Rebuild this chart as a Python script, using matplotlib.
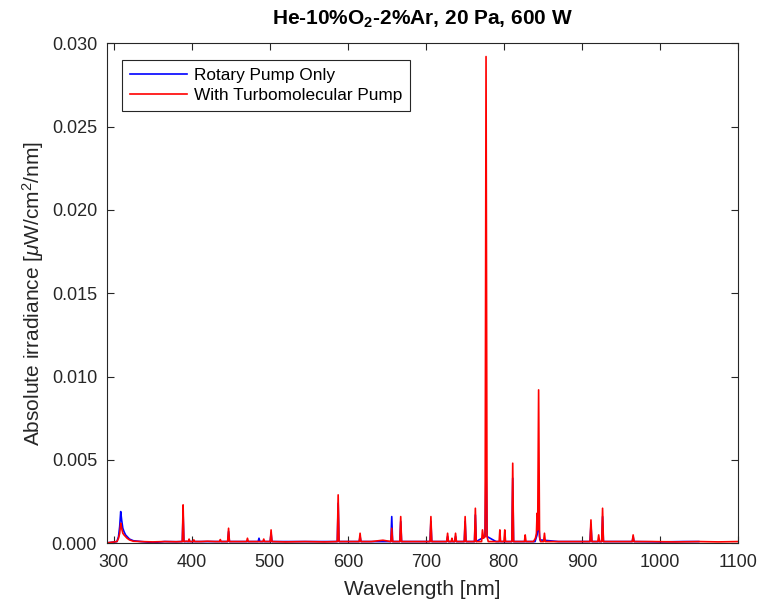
import matplotlib
matplotlib.use('Agg')
import matplotlib.pyplot as plt
from matplotlib.ticker import FormatStrFormatter

# ---------------------------------------------------------------------------
# Espectros (nm, uW/cm^2/nm)

rot_nm = [291, 298, 304, 306, 307.5, 308.8, 310, 311.5, 313, 315, 317, 320, 325,
          335, 350, 365, 380, 387.8, 388.8, 389.8, 400, 420, 446.0, 447.1, 448.2,
          470, 485.0, 486.1, 487.2, 500.5, 501.6, 502.7, 540, 586.5, 587.6, 588.7,
          614.6, 615.7, 616.8, 655.2, 656.3, 657.4, 666.7, 667.8, 668.9, 705.4,
          706.5, 707.6, 726.8, 727.9, 729, 737, 738.1, 739.2, 749.3, 750.4, 751.5,
          762.4, 763.5, 764.6, 775.8, 777.2, 778.6, 790, 810.3, 811.4, 812.5, 840,
          842.6, 844.6, 846.2, 870, 910.5, 911.7, 912.9, 925.5, 926.6, 927.7, 964.7,
          965.8, 966.9, 1000, 1030, 1050]
rot_val = [0.00002, 0.00006, 0.0001, 0.0004, 0.0010, 0.0019, 0.0014, 0.0009, 0.0007,
           0.0005, 0.0004, 0.00025, 0.00015, 0.0001, 0.00004, 0.0001, 0.00009, 0.0001,
           0.0018, 0.0001, 0.0001, 0.0001, 0.0001, 0.0007, 0.0001, 0.0001, 0.0001,
           0.0003, 0.0001, 0.0001, 0.0006, 0.0001, 0.0001, 0.0001, 0.0024, 0.0001,
           0.0001, 0.0004, 0.0001, 0.0001, 0.0016, 0.0001, 0.0001, 0.0013, 0.0001,
           0.0001, 0.0013, 0.0001, 0.0001, 0.0004, 0.0001, 0.0001, 0.0004, 0.0001,
           0.0001, 0.0013, 0.0001, 0.0001, 0.0017, 0.0001, 0.0004, 0.0045, 0.0004,
           0.0001, 0.0001, 0.0039, 0.0001, 0.0001, 0.0005, 0.0012, 0.0002, 0.0001,
           0.0001, 0.0011, 0.0001, 0.0001, 0.0016, 0.0001, 0.0001, 0.0004, 0.0001,
           0.00008, 0.0001, 0.0001]

turbo_nm = [291, 298, 304, 306, 307.5, 308.8, 310, 311.5, 313, 315, 317, 320, 325,
            335, 350, 365, 380, 387.8, 388.8, 389.8, 393, 395.5, 396.5, 397.5, 401.5,
            402.6, 403.7, 412, 420, 430, 435.5, 436.5, 437.5, 445.9, 447.1, 448.2,
            458, 470.2, 471.3, 472.4, 480, 491.1, 492.2, 493.3, 500.5, 501.6, 502.7,
            520, 545, 570, 586.5, 587.6, 588.7, 600, 614.6, 615.7, 616.8, 630, 645,
            655.2, 656.3, 657.4, 666.7, 667.8, 668.9, 690, 705.4, 706.5, 707.6, 718,
            726.8, 727.9, 729, 732.5, 733.5, 734.5, 737, 738.1, 739.2, 749.3, 750.4,
            751.5, 762.4, 763.5, 764.6, 771.5, 772.6, 774, 776.0, 777.2, 778.5, 780,
            790, 794, 794.9, 795.8, 800.2, 801.2, 802.2, 810.3, 811.4, 812.5, 820,
            826.4, 827.4, 828.4, 838, 840.5, 841.8, 842.6, 843.4, 844.6, 845.8, 847,
            851, 852.1, 853.2, 870, 890, 910.5, 911.7, 912.9, 920.5, 921.6, 922.7,
            925.5, 926.6, 927.7, 940, 964.7, 965.8, 966.9, 990, 1020, 1050, 1075, 1100]
turbo_val = [0.00002, 0.00006, 0.0001, 0.0003, 0.0006, 0.0012, 0.0009, 0.0006, 0.0005,
             0.0004, 0.0003, 0.0002, 0.00012, 0.0001, 0.00008, 0.0001, 0.00009, 0.0001,
             0.0023, 0.0001, 0.00012, 0.0001, 0.00025, 0.0001, 0.0001, 0.0002, 0.0001,
             0.0001, 0.00012, 0.0001, 0.0001, 0.00022, 0.0001, 0.0001, 0.0009, 0.0001,
             0.0001, 0.0001, 0.0003, 0.0001, 0.0001, 0.0001, 0.00025, 0.0001, 0.0001,
             0.0008, 0.0001, 0.00008, 0.0001, 0.00008, 0.0001, 0.0029, 0.0001, 0.0001,
             0.0001, 0.0006, 0.0001, 0.0001, 0.00018, 0.0001, 0.0009, 0.0001, 0.0001,
             0.0016, 0.0001, 0.0001, 0.0001, 0.0016, 0.0001, 0.0001, 0.0001, 0.0006,
             0.0001, 0.0001, 0.0003, 0.0001, 0.0001, 0.0006, 0.0001, 0.0001, 0.0016,
             0.0001, 0.0001, 0.0021, 0.0001, 0.0001, 0.0008, 0.0003, 0.0004, 0.0292,
             0.0004, 0.0001, 0.0001, 0.0001, 0.0008, 0.0001, 0.0001, 0.0008, 0.0001,
             0.0001, 0.0048, 0.0001, 0.0001, 0.0001, 0.0005, 0.0001, 0.0001, 0.0003,
             0.0006, 0.0018, 0.0008, 0.0092, 0.0004, 0.0001, 0.0001, 0.0006, 0.0001,
             0.0001, 0.0001, 0.0001, 0.0014, 0.0001, 0.0001, 0.0005, 0.0001, 0.0001,
             0.0021, 0.0001, 0.0001, 0.0001, 0.0005, 0.0001, 0.0001, 0.00008, 0.0001,
             0.00008, 0.0001]

x_ticks = [300, 400, 500, 600, 700, 800, 900, 1000, 1100]
y_ticks = [0.000, 0.005, 0.010, 0.015, 0.020, 0.025, 0.030]

# ---------------------------------------------------------------------------

plt.rcParams['font.family'] = ['Liberation Sans', 'DejaVu Sans']
plt.rcParams['mathtext.fontset'] = 'custom'
plt.rcParams['mathtext.rm'] = 'Liberation Sans'
plt.rcParams['mathtext.it'] = 'Liberation Sans:italic'
plt.rcParams['mathtext.bf'] = 'Liberation Sans:bold'

cinza = '#262626'

fig = plt.figure(figsize=(7.63, 6.09), dpi=100)
ax = fig.add_axes([0.140, 0.108, 0.827, 0.821])

ax.plot(rot_nm, rot_val, '-', color='#0000ff', lw=1.2, label='Rotary Pump Only')
ax.plot(turbo_nm, turbo_val, '-', color='#ff0000', lw=1.2, label='With Turbomolecular Pump')

ax.set_xlim(291, 1100)
ax.set_ylim(0, 0.030)
ax.set_xticks(x_ticks)
ax.set_yticks(y_ticks)
ax.yaxis.set_major_formatter(FormatStrFormatter('%.3f'))
ax.tick_params(direction='in', top=True, right=True, length=5, width=0.8,
               colors=cinza, labelsize=13)
ax.tick_params(axis='x', pad=8)
ax.tick_params(axis='y', pad=7)
for s in ax.spines.values():
    s.set_color(cinza)
    s.set_linewidth(0.8)

ax.set_xlabel('Wavelength [nm]', fontsize=15, color=cinza, labelpad=6)
ax.set_ylabel(r'Absolute irradiance [$\mu$W/cm$^2$/nm]', fontsize=15, color=cinza)
ax.set_title(r'He-10%O$_\mathbf{2}$-2%Ar, 20 Pa, 600 W', fontsize=15,
             fontweight='bold', pad=13)

leg = ax.legend(loc='upper left', bbox_to_anchor=(0.024, 0.966), borderaxespad=0,
                fontsize=12.4, fancybox=False, edgecolor=cinza, framealpha=1,
                handlelength=3.3, borderpad=0.45, labelspacing=0.28,
                handletextpad=0.45)
leg.get_frame().set_linewidth(0.8)

plt.savefig('out.png', dpi=100)
